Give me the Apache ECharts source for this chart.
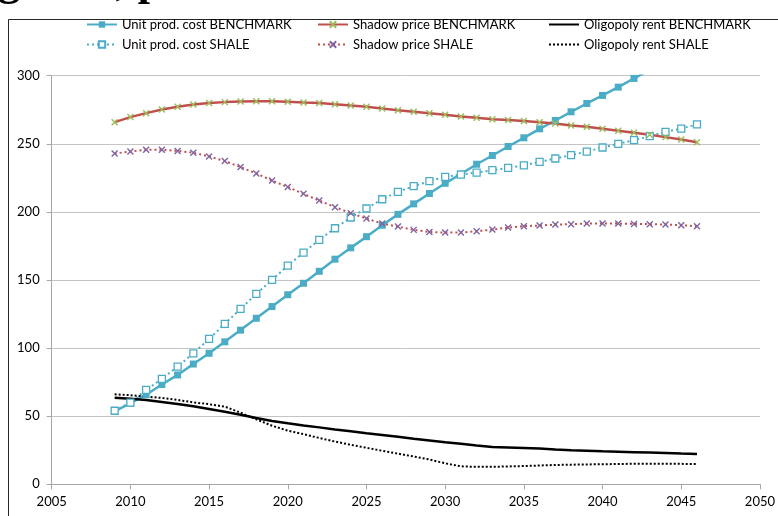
<!DOCTYPE html>
<html>
<head>
<meta charset="utf-8">
<script src="https://cdn.jsdelivr.net/npm/echarts@6/dist/echarts.min.js"></script>
<style>html,body{margin:0;padding:0;background:#fff}#c{width:778px;height:516px}</style>
</head>
<body>
<div id="c"></div>
<script>
const years = [2009,2010,2011,2012,2013,2014,2015,2016,2017,2018,2019,2020,2021,2022,2023,2024,2025,2026,2027,2028,2029,2030,2031,2032,2033,2034,2035,2036,2037,2038,2039,2040,2041,2042,2043,2044,2045,2046];
const unitCostBenchmark = [53.5,59.5,65.8,73.3,80.3,88.3,96.2,104.6,113.2,121.9,130.5,139.2,147.6,156.4,165.3,173.6,181.8,190.2,198.2,205.9,213.5,221.0,227.8,235.0,241.4,248.0,254.4,261.0,267.1,273.5,279.6,285.5,291.6,298.0,304.3,310.5,316.8,323.0];
const unitCostShale = [54.0,60.0,69.3,77.4,86.4,96.2,106.7,117.8,128.8,139.8,150.1,160.5,170.1,179.5,188.0,195.9,202.5,209.3,214.7,218.9,222.6,225.7,227.4,228.9,230.6,232.3,234.2,236.7,239.2,241.7,244.3,247.3,250.0,252.7,255.6,258.8,261.2,264.2];
const shadowBenchmark = [265.9,269.6,272.5,275.2,277.2,278.9,279.9,280.6,281.1,281.3,281.3,280.8,280.3,279.9,279.1,278.1,277.2,275.9,274.7,273.5,272.5,271.3,270.0,269.1,268.1,267.4,266.7,265.9,264.9,263.4,262.5,261.0,259.5,258.1,256.6,254.9,253.1,251.2];
const shadowShale = [242.9,244.3,245.6,245.6,244.8,243.4,240.7,237.3,232.9,228.2,223.0,218.2,213.3,208.3,203.5,199.1,195.1,191.4,189.2,186.8,185.3,184.8,184.8,185.8,187.0,188.5,189.5,190.0,190.7,191.0,191.4,191.4,191.4,191.2,191.0,190.7,190.2,189.5];
const rentBenchmark = [63.6,62.9,61.9,60.5,59.0,57.3,55.3,53.3,51.1,48.7,46.5,44.8,43.2,41.8,40.3,38.9,37.5,36.2,34.9,33.5,32.2,30.9,29.7,28.5,27.4,27.1,26.7,26.3,25.6,25.0,24.6,24.2,23.9,23.6,23.3,23.0,22.6,22.3];
const rentShale = [66.1,65.4,64.4,63.4,61.9,60.2,58.8,57.0,52.6,47.7,43.0,39.4,36.8,34.0,31.4,29.0,26.8,24.6,22.5,20.4,18.2,15.4,13.2,12.8,12.8,13.1,13.4,13.8,14.2,14.4,14.6,14.7,14.9,15.1,15.1,15.0,15.0,14.9];
const seriesNames = ['Unit prod. cost BENCHMARK','Unit prod. cost SHALE','Shadow price BENCHMARK','Shadow price SHALE','Oligopoly rent BENCHMARK','Oligopoly rent SHALE'];
const xTicks = {min:2005, max:2050, step:5};
const yTicks = {min:0, max:300, step:50};

const pairs = arr => years.map((y,i)=>[y, arr[i]]);
const FONT = 'Lato';
const X_PATH = 'path://M0,0L10,10M10,0L0,10';

const legendText = {fontFamily:FONT, fontSize:13, color:'#000'};
const legendPos = [[81,13],[81,33],[312,13],[312,33],[543,13],[543,33]];
const legends = seriesNames.map((n,i)=>({
  data:[i>=4 ? {name:n, itemStyle:{opacity:0}} : n],
  left:legendPos[i][0], top:legendPos[i][1], itemWidth:30, itemHeight:8, textStyle:legendText, selectedMode:false
}));

const chart = echarts.init(document.getElementById('c'), null, {renderer:'canvas'});
chart.setOption({
  animation:false,
  backgroundColor:'#fff',
  graphic:[
    {type:'rect', shape:{x:8.5,y:19.5,width:900,height:700}, style:{fill:'none', stroke:'#262626', lineWidth:1}, z:-1},
    {type:'text', left:-2, top:-38, style:{text:'gure 4, p', font:'bold 44px "Liberation Serif"', fill:'#000'}}
  ],
  legend:legends,
  grid:{left:51.7, right:14.7, top:75.7, bottom:31.7, containLabel:false},
  xAxis:{type:'value', min:xTicks.min, max:xTicks.max, interval:xTicks.step,
    axisLine:{lineStyle:{color:'#a6a6a6'}}, axisTick:{show:true, length:5, lineStyle:{color:'#a6a6a6'}},
    axisLabel:{fontFamily:FONT, fontSize:13, color:'#000', margin:11, formatter:v=>String(v)},
    splitLine:{show:false}},
  yAxis:{type:'value', min:yTicks.min, max:yTicks.max, interval:yTicks.step,
    axisLine:{show:true, lineStyle:{color:'#a6a6a6'}}, axisTick:{show:true, length:5, lineStyle:{color:'#a6a6a6'}},
    axisLabel:{fontFamily:FONT, fontSize:13, color:'#000', margin:12},
    splitLine:{lineStyle:{color:'#c4c4c4', width:1}}},
  series:[
    {name:seriesNames[0], type:'line', data:pairs(unitCostBenchmark), symbol:'rect', symbolSize:7,
      lineStyle:{color:'#4bacc6', width:2.5}, itemStyle:{color:'#4bacc6'}},
    {name:seriesNames[1], type:'line', data:pairs(unitCostShale), symbol:'rect', symbolSize:7,
      lineStyle:{color:'#4bacc6', width:2, type:[2,3]}, itemStyle:{color:'#fff', borderColor:'#4bacc6', borderWidth:1.3}},
    {name:seriesNames[2], type:'line', data:pairs(shadowBenchmark), symbol:X_PATH, symbolSize:6,
      lineStyle:{color:'#c0504d', width:2.5}, itemStyle:{color:'#9bbb59', borderColor:'#9bbb59', borderWidth:1.4}},
    {name:seriesNames[3], type:'line', data:pairs(shadowShale), symbol:X_PATH, symbolSize:6,
      lineStyle:{color:'#c0504d', width:2, type:[2,3]}, itemStyle:{color:'#8064a2', borderColor:'#8064a2', borderWidth:1.4}},
    {name:seriesNames[4], type:'line', data:pairs(rentBenchmark), symbol:'circle', showSymbol:false,
      lineStyle:{color:'#000', width:2.5}, itemStyle:{color:'#000'}},
    {name:seriesNames[5], type:'line', data:pairs(rentShale), symbol:'circle', showSymbol:false,
      lineStyle:{color:'#000', width:2, type:[2,2]}, itemStyle:{color:'#000'}}
  ]
});
</script>
</body>
</html>
